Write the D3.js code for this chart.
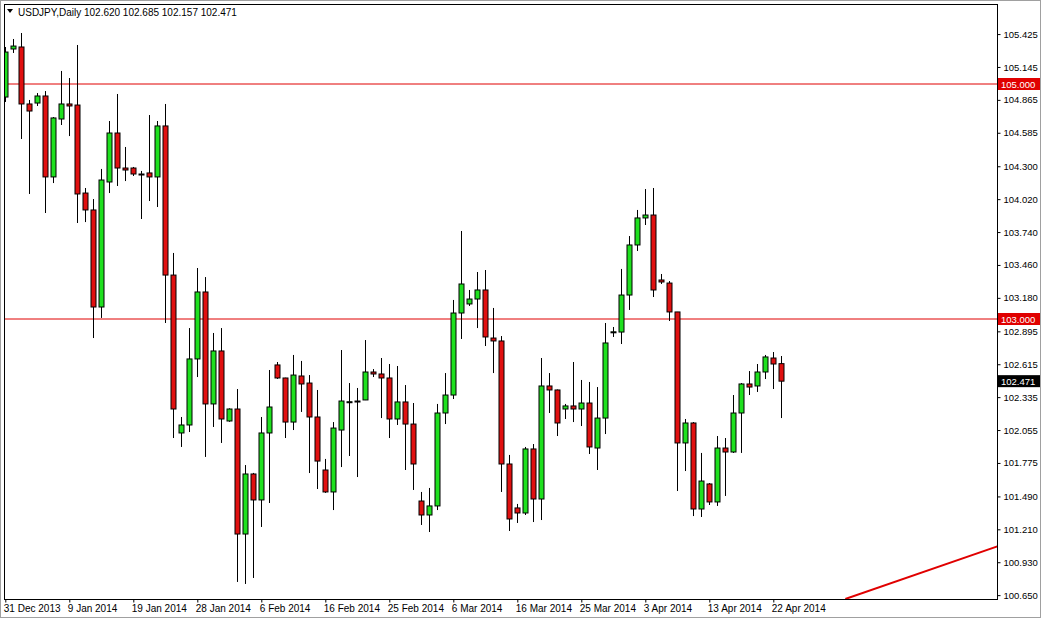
<!DOCTYPE html>
<html><head><meta charset="utf-8">
<script src="https://cdn.jsdelivr.net/npm/d3@7"></script>
<style>body{margin:0;background:#fff}svg{display:block}text{font-family:"Liberation Sans",Arial,sans-serif}</style>
</head><body><svg id="c" width="1041" height="618"></svg>
<script>
const opens=[104.889,105.298,105.315,104.830,104.838,104.898,104.209,104.702,104.830,104.821,104.072,103.928,103.102,104.166,104.583,104.285,104.285,104.234,104.243,104.209,104.643,103.374,102.030,102.098,102.660,103.230,102.277,102.728,102.132,102.234,101.170,101.681,101.460,102.030,102.609,102.498,102.123,102.515,102.455,102.166,101.715,101.528,102.055,102.294,102.302,102.311,102.549,102.532,102.498,102.149,102.294,102.106,101.451,101.332,101.409,102.200,102.353,103.051,103.128,103.170,103.247,102.838,102.813,101.766,101.392,101.349,101.894,101.468,102.430,102.396,102.234,102.260,102.234,102.285,101.902,102.157,102.889,102.889,103.204,103.630,103.860,103.885,103.332,103.306,103.060,101.945,102.115,101.383,101.596,101.443,101.902,101.868,102.200,102.447,102.430,102.549,102.668,102.620];
const highs=[105.315,105.383,105.434,104.864,104.923,104.940,104.719,105.111,105.051,105.332,104.115,104.021,104.277,104.685,104.915,104.464,104.294,104.260,104.736,104.685,104.830,103.562,102.166,102.923,103.434,103.357,102.881,102.923,102.240,102.404,101.757,101.690,102.166,102.566,102.634,102.500,102.694,102.643,102.523,102.396,101.809,102.123,102.736,102.455,102.413,102.821,102.574,102.668,102.617,102.600,102.438,102.285,101.528,101.562,102.277,102.540,103.162,103.749,103.247,103.400,103.417,103.094,102.855,101.843,101.426,101.911,101.936,102.668,102.540,102.400,102.277,102.634,102.481,102.464,102.421,102.966,102.932,103.426,103.706,103.928,104.106,104.115,103.383,103.323,103.060,102.149,102.123,101.860,101.604,102.004,101.987,102.353,102.455,102.557,102.617,102.694,102.719,102.685];
const lows=[104.847,105.264,104.532,104.064,104.813,103.902,104.157,104.651,104.557,103.817,103.825,102.838,103.009,104.072,104.132,104.174,104.217,103.851,104.004,103.953,102.966,101.987,101.911,102.038,102.506,101.826,102.081,101.945,102.125,100.762,100.745,100.796,101.230,101.434,102.490,101.987,102.055,102.209,101.689,101.553,101.520,101.374,101.740,101.834,101.655,102.310,102.506,102.157,101.987,102.098,101.715,101.545,101.247,101.187,101.374,102.106,102.319,102.830,103.111,102.923,102.770,102.540,101.528,101.196,101.264,101.332,101.272,101.289,102.200,102.004,102.149,102.123,102.089,101.851,101.715,102.021,102.847,102.787,103.077,103.579,103.800,103.187,103.298,102.983,101.536,101.706,101.323,101.315,101.417,101.409,101.494,101.860,101.860,102.353,102.379,102.489,102.404,102.157];
const closes=[105.272,105.323,104.830,104.770,104.898,104.209,104.711,104.830,104.813,104.064,103.928,103.102,104.183,104.583,104.285,104.268,104.234,104.230,104.209,104.643,103.374,102.234,102.098,102.660,103.230,102.277,102.728,102.149,102.234,101.170,101.681,101.460,102.030,102.251,102.498,102.123,102.523,102.447,102.166,101.791,101.528,102.072,102.302,102.296,102.300,102.549,102.532,102.498,102.149,102.294,102.106,101.766,101.332,101.409,102.200,102.353,103.051,103.298,103.170,103.247,102.847,102.813,101.766,101.298,101.349,101.894,101.468,102.430,102.396,102.115,102.260,102.234,102.285,101.911,102.157,102.796,102.891,103.204,103.630,103.860,103.885,103.247,103.315,103.060,101.945,102.115,101.383,101.621,101.443,101.902,101.868,102.200,102.447,102.421,102.549,102.677,102.617,102.471];
const dateLabels=["31 Dec 2013","9 Jan 2014","19 Jan 2014","28 Jan 2014","6 Feb 2014","16 Feb 2014","25 Feb 2014","6 Mar 2014","16 Mar 2014","25 Mar 2014","3 Apr 2014","13 Apr 2014","22 Apr 2014"];
const dateIdx=[0,8,16,24,32,40,48,56,64,72,80,88,96];
const priceTicks=[105.425,105.145,104.865,104.585,104.300,104.020,103.740,103.460,103.180,102.895,102.615,102.335,102.055,101.775,101.490,101.210,100.930,100.650];
const hLines=[105.000,103.000];
const trendIdx=[105,124.5];
const trendPrice=[100.617,101.077];
const lastPrice=102.471;

const svg=d3.select("#c");
const L=4,R=997,T=4,B=599;
const x=d3.scaleLinear().domain([0,97]).range([5.3,781.3]);
const y=d3.scaleLinear().domain([103,105]).range([319,84]);
const green="#1fe01f",red="#e01010";

svg.append("rect").attr("x",0.5).attr("y",0.5).attr("width",1040).attr("height",617).attr("fill","#fff").attr("stroke","#a0a0a0");
svg.append("defs").append("clipPath").attr("id","clp").append("rect").attr("x",L).attr("y",T).attr("width",R-L).attr("height",B-T);
const g=svg.append("g").attr("clip-path","url(#clp)");

hLines.forEach(v=>g.append("line").attr("x1",L).attr("x2",R).attr("y1",y(v)).attr("y2",y(v)).attr("stroke","#e00000").attr("stroke-width",1));
g.append("line").attr("x1",x(trendIdx[0])).attr("x2",x(trendIdx[1])).attr("y1",y(trendPrice[0])).attr("y2",y(trendPrice[1])).attr("stroke","#e00000").attr("stroke-width",2);

const idx=d3.range(opens.length);
g.selectAll(".wick").data(idx).enter().append("line").attr("x1",i=>Math.round(x(i))+0.5).attr("x2",i=>Math.round(x(i))+0.5)
 .attr("y1",i=>y(highs[i])).attr("y2",i=>y(lows[i])).attr("stroke","#000").attr("stroke-width",1);
g.selectAll(".body").data(idx).enter().append("rect")
 .attr("x",i=>Math.round(x(i))-2).attr("width",5)
 .attr("y",i=>Math.min(y(opens[i]),y(closes[i]))).attr("height",i=>Math.max(1,Math.abs(y(opens[i])-y(closes[i]))))
 .attr("fill",i=>closes[i]>=opens[i]?green:red).attr("stroke","#000").attr("stroke-width",1);

svg.append("rect").attr("x",L+0.5).attr("y",T+0.5).attr("width",R-L).attr("height",B-T).attr("fill","none").attr("stroke","#000");

const yAxis=d3.axisRight(y).tickValues(priceTicks).tickFormat(d3.format(".3f")).tickSize(3).tickPadding(3);
const ya=svg.append("g").attr("transform",`translate(${R+0.5},0)`).call(yAxis);
ya.select(".domain").remove();
ya.selectAll("text").attr("font-size","9.5px").attr("fill","#000").attr("font-family","Liberation Sans, Arial, sans-serif");

const xAxis=d3.axisBottom(x).tickValues(dateIdx).tickFormat((d,i)=>dateLabels[i]).tickSize(3).tickPadding(2);
const xa=svg.append("g").attr("transform",`translate(0,${B+0.5})`).call(xAxis);
xa.select(".domain").remove();
xa.selectAll("text").attr("font-size","10px").attr("text-anchor","start").attr("dx",-2).attr("fill","#000").attr("font-family","Liberation Sans, Arial, sans-serif");

function tag(v,fill){const gy=y(v);
 svg.append("rect").attr("x",R+1).attr("y",gy-6).attr("width",42).attr("height",12).attr("fill",fill);
 svg.append("text").attr("x",R+4).attr("y",gy+4).attr("font-size","9.5px").attr("fill","#fff").text(d3.format(".3f")(v));}
hLines.forEach(v=>tag(v,"#e00000"));
tag(lastPrice,"#000");

svg.append("path").attr("d","M7,9 L13,9 L10,13 Z").attr("fill","#000");
svg.append("text").attr("x",18).attr("y",16).attr("font-size","10px").attr("fill","#000")
 .text(`USDJPY,Daily  ${opens[97].toFixed(3)} ${highs[97].toFixed(3)} ${lows[97].toFixed(3)} ${closes[97].toFixed(3)}`);
</script></body></html>
